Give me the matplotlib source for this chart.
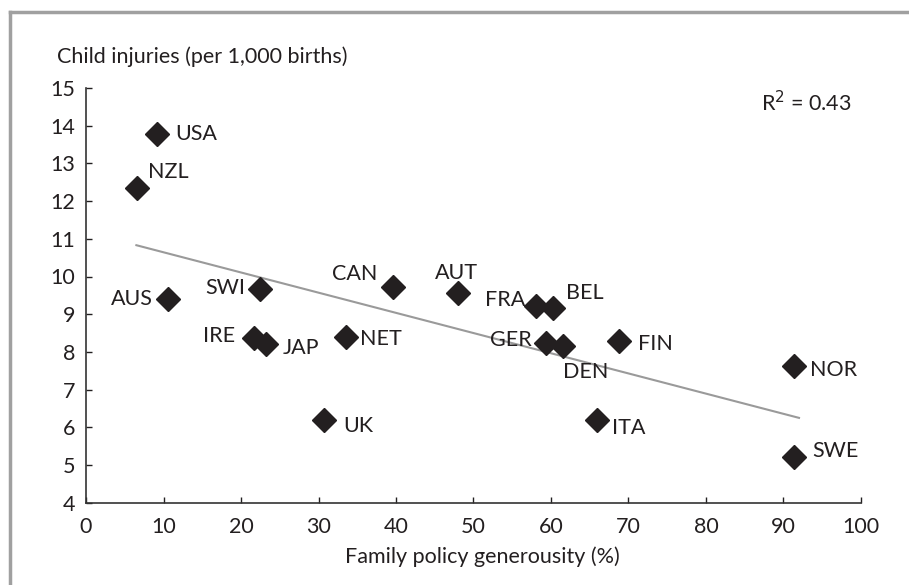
import matplotlib
matplotlib.use("Agg")
import matplotlib.pyplot as plt
from matplotlib.lines import Line2D

countries = ["USA", "NZL", "AUS", "SWI", "CAN", "AUT", "FRA", "BEL", "IRE", "JAP",
             "NET", "GER", "DEN", "FIN", "UK", "ITA", "SWE", "NOR"]
generosity = [9.2, 6.6, 10.6, 22.5, 39.6, 48.0, 58.1, 60.3, 21.7, 23.2,
              33.6, 59.4, 61.5, 68.8, 30.7, 65.9, 91.4, 91.4]
injuries = [13.78, 12.35, 9.40, 9.66, 9.73, 9.55, 9.22, 9.16, 8.36, 8.21,
            8.40, 8.23, 8.16, 8.29, 6.19, 6.19, 5.20, 7.63]
trend_x = [6.5, 92.0]
trend_y = [10.83, 6.25]
x_ticks = [0, 10, 20, 30, 40, 50, 60, 70, 80, 90, 100]
y_ticks = [4, 5, 6, 7, 8, 9, 10, 11, 12, 13, 14, 15]
r_squared = "0.43"

# label placement (pixel offsets, alignment)
label_style = {
    "USA": (18, 0, "left"), "NZL": (11, 16, "left"), "AUS": (-15, 0, "right"),
    "SWI": (-15, 1, "right"), "CAN": (-16, 13, "right"), "AUT": (-2, 20, "center"),
    "FRA": (-11, 6, "right"), "BEL": (13, 15, "left"), "IRE": (-19, 2, "right"),
    "JAP": (17, -4, "left"), "NET": (14, -2, "left"), "GER": (-15, 3, "right"),
    "DEN": (0, -26, "left"), "FIN": (19, -3, "left"), "UK": (19, -6, "left"),
    "ITA": (15, -8, "left"), "SWE": (18, 6, "left"), "NOR": (16, -4, "left"),
}

ink = "#231f20"
plt.rcParams["font.family"] = ["Lato", "DejaVu Sans"]
fs = 15.5

fig = plt.figure(figsize=(9.09, 5.85), dpi=100)
ax = fig.add_axes([86 / 909, (585 - 502.7) / 585, 775 / 909, (502.7 - 88) / 585])

ax.plot(trend_x, trend_y, color="#9a9a9a", lw=1.5, zorder=2)
ax.plot(generosity, injuries, linestyle="none", marker="D", markersize=12,
        color=ink, zorder=3)

for c, x, y in zip(countries, generosity, injuries):
    dx, dy, ha = label_style[c]
    ax.annotate(c, (x, y), xytext=(dx, dy), textcoords="offset pixels",
                ha=ha, va="center", fontsize=fs, color=ink)

ax.set_xlim(0, 100)
ax.set_ylim(4, 15)
ax.set_xticks(x_ticks)
ax.set_yticks(y_ticks)
ax.tick_params(direction="in", length=4, width=1, colors=ink, labelsize=fs)
ax.tick_params(axis="x", pad=10)
ax.tick_params(axis="y", pad=8)
for s in ["top", "right"]:
    ax.spines[s].set_visible(False)
for s in ["left", "bottom"]:
    ax.spines[s].set_color("#333333")
    ax.spines[s].set_linewidth(1.2)

fig.text(57 / 909, 1 - 57 / 585, "Child injuries (per 1,000 births)",
         fontsize=fs, color=ink, ha="left", va="center")
fig.text(482 / 909, 1 - 557 / 585, "Family policy generousity (%)",
         fontsize=fs, color=ink, ha="center", va="center")
fig.text(852 / 909, 1 - 103 / 585, r"R$^{2}$ = " + r_squared,
         fontsize=fs, color=ink, ha="right", va="center")

# outer frame (top and left visible)
fig.add_artist(Line2D([10 / 909, 10 / 909], [0, 1 - 12 / 585],
                      transform=fig.transFigure, color="#a0a0a0", lw=2.5))
fig.add_artist(Line2D([10 / 909, 1], [1 - 12 / 585, 1 - 12 / 585],
                      transform=fig.transFigure, color="#a0a0a0", lw=2.5))

fig.savefig("out.png", dpi=100)
